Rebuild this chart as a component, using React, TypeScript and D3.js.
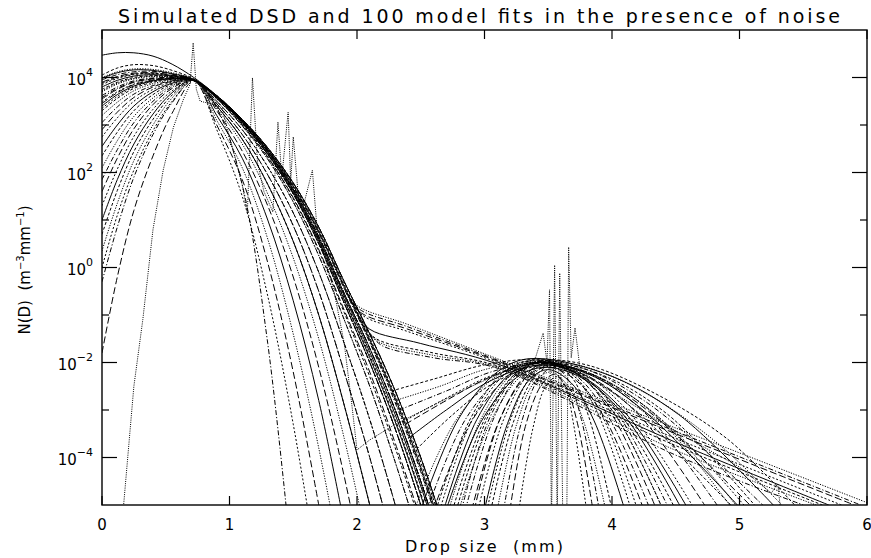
import React from 'react';
import * as d3 from 'd3';

const W = 871;
const H = 558;
const box = { left: 102, right: 867, top: 30, bottom: 505 };

const title = 'Simulated DSD and 100 model fits in the presence of noise';
const xLabel = 'Drop size\u00a0\u00a0(mm)';
const xTicks = [0, 1, 2, 3, 4, 5, 6];
const yMajor = [-4, -2, 0, 2, 4]; // log10 N
const yMinor = [-3, -1, 1, 3];

// first mode fits: log10 N(D) on a shared grid of D (mm)
const mode1D = [0, 0.12, 0.25, 0.4, 0.55, 0.72, 0.9, 1.1, 1.3, 1.5, 1.7, 1.9, 2.1, 2.3, 2.5, 2.7];
const mode1LogN = [
  [4.47, 4.52, 4.52, 4.45, 4.28, 4.0, 3.62, 3.12, 2.52, 1.78, 0.85, -0.3, -1.4, -2.6, -4.0, -5.6],
  [4.05, 4.2, 4.27, 4.25, 4.15, 3.97, 3.61, 3.11, 2.5, 1.75, 0.8, -0.36, -1.48, -2.7, -4.1, -5.7],
  [4.0, 4.12, 4.18, 4.17, 4.1, 3.96, 3.6, 3.08, 2.45, 1.65, 0.65, -0.55, -1.7, -3.0, -4.5, -6.2],
  [3.95, 4.06, 4.12, 4.13, 4.07, 3.95, 3.6, 3.09, 2.47, 1.69, 0.72, -0.45, -1.58, -2.85, -4.3, -5.9],
  [3.9, 4.02, 4.09, 4.1, 4.05, 3.95, 3.58, 3.04, 2.38, 1.55, 0.5, -0.75, -2.0, -3.4, -5.0, -6.8],
  [3.85, 3.98, 4.06, 4.08, 4.04, 3.94, 3.6, 3.08, 2.45, 1.65, 0.65, -0.55, -1.7, -3.0, -4.5, -6.2],
  [3.8, 3.94, 4.03, 4.06, 4.03, 3.95, 3.61, 3.1, 2.49, 1.72, 0.76, -0.4, -1.52, -2.75, -4.2, -5.8],
  [3.75, 3.9, 4.0, 4.04, 4.02, 3.95, 3.59, 3.06, 2.42, 1.6, 0.58, -0.65, -1.85, -3.2, -4.75, -6.5],
  [3.7, 3.86, 3.97, 4.02, 4.01, 3.94, 3.55, 2.98, 2.28, 1.38, 0.25, -1.1, -2.5, -4.1, -5.8],
  [3.62, 3.8, 3.93, 3.99, 4.0, 3.95, 3.6, 3.08, 2.45, 1.65, 0.65, -0.55, -1.7, -3.0, -4.5, -6.2],
  [3.55, 3.75, 3.9, 3.97, 3.99, 3.95, 3.62, 3.12, 2.52, 1.78, 0.85, -0.3, -1.4, -2.6, -4.0, -5.6],
  [3.48, 3.7, 3.86, 3.95, 3.98, 3.94, 3.58, 3.04, 2.38, 1.55, 0.5, -0.75, -2.0, -3.4, -5.0, -6.8],
  [3.4, 3.64, 3.82, 3.93, 3.97, 3.95, 3.59, 3.05, 2.4, 1.58, 0.55, -0.68, -1.9, -3.25, -4.8, -6.6],
  [3.3, 3.56, 3.77, 3.9, 3.96, 3.95, 3.5, 2.9, 2.12, 1.15, -0.1, -1.6, -3.2, -5.0, -7.0],
  [3.2, 3.48, 3.72, 3.87, 3.95, 3.94, 3.6, 3.08, 2.45, 1.65, 0.65, -0.55, -1.7, -3.0, -4.5, -6.2],
  [3.05, 3.38, 3.65, 3.83, 3.93, 3.95, 3.55, 2.98, 2.28, 1.38, 0.25, -1.1, -2.5, -4.1, -5.8],
  [2.9, 3.27, 3.58, 3.8, 3.92, 3.95, 3.45, 2.8, 1.95, 0.88, -0.5, -2.2, -4.0, -6.0],
  [2.75, 3.15, 3.5, 3.75, 3.9, 3.94, 3.58, 3.04, 2.38, 1.55, 0.5, -0.75, -2.0, -3.4, -5.0, -6.8],
  [2.55, 3.0, 3.4, 3.7, 3.88, 3.95, 3.4, 2.7, 1.75, 0.55, -1.0, -2.9, -5.0, -7.2],
  [2.35, 2.85, 3.3, 3.64, 3.86, 3.95, 3.56, 3.0, 2.32, 1.45, 0.35, -0.95, -2.3, -3.8, -5.4],
  [2.1, 2.67, 3.18, 3.57, 3.83, 3.94, 3.35, 2.6, 1.55, 0.2, -1.5, -3.6, -6.0],
  [1.85, 2.48, 3.05, 3.5, 3.8, 3.95, 3.5, 2.9, 2.12, 1.15, -0.1, -1.6, -3.2, -5.0, -7.0],
  [1.6, 2.3, 2.92, 3.43, 3.77, 3.95, 3.3, 2.45, 1.3, -0.2, -2.1, -4.4, -7.0],
  [1.3, 2.07, 2.76, 3.33, 3.72, 3.94, 3.45, 2.8, 1.95, 0.88, -0.5, -2.2, -4.0, -6.0],
  [1.0, 1.85, 2.6, 3.23, 3.68, 3.95, 3.2, 2.3, 1.0, -0.7, -2.8, -5.4],
  [0.7, 1.62, 2.44, 3.12, 3.63, 3.94, 3.4, 2.7, 1.75, 0.55, -1.0, -2.9, -5.0, -7.2],
  [0.35, 1.35, 2.25, 3.0, 3.57, 3.95, 3.1, 2.1, 0.6, -1.4, -3.8, -6.6],
  [-0.3, 0.85, 1.9, 2.8, 3.47, 3.94, 3.36, 1.74, -1.6, -6.5],
  [-1.8, -0.2, 1.2, 2.35, 3.25, 3.92, 3.0, 1.85, 0.1, -2.2, -5.0],
  [0.0, 1.1, 2.05, 2.88, 3.5, 3.94, 2.9, 1.5, -0.6, -3.3, -6.5],
  [3.98, 4.1, 4.16, 4.15, 4.08, 3.96, 3.6, 3.07, 2.43, 1.62, 0.6, -0.6, -1.78, -3.1, -4.6, -6.3],
  [3.88, 4.0, 4.07, 4.09, 4.04, 3.95, 3.61, 3.1, 2.48, 1.7, 0.74, -0.42, -1.55, -2.8, -4.25, -5.9],
  [3.72, 3.88, 3.98, 4.03, 4.01, 3.95, 3.58, 3.04, 2.38, 1.55, 0.5, -0.75, -2.0, -3.4, -5.0, -6.8],
  [3.58, 3.77, 3.91, 3.98, 3.99, 3.94, 3.6, 3.08, 2.45, 1.65, 0.65, -0.55, -1.7, -3.0, -4.5, -6.2],
  [3.45, 3.68, 3.85, 3.94, 3.98, 3.95, 3.57, 3.01, 2.33, 1.47, 0.38, -0.9, -2.2, -3.7, -5.3],
  [3.35, 3.6, 3.8, 3.92, 3.97, 3.95, 3.62, 3.12, 2.52, 1.78, 0.85, -0.3, -1.4, -2.6, -4.0, -5.6],
];

// exponential tails of the large-drop mode, [D, log10 N]
const tailFits = [
  [[1.9, -0.45], [2.0, -0.8], [2.4, -1.2], [3.1, -1.92], [4.5, -3.38], [6.0, -4.95]],
  [[1.92, -0.55], [2.02, -0.88], [2.4, -1.25], [3.1, -1.95], [4.5, -3.45], [5.95, -5.0]],
  [[1.93, -0.6], [2.03, -0.95], [2.4, -1.3], [3.1, -1.97], [4.5, -3.5], [5.9, -5.0]],
  [[1.95, -0.7], [2.05, -1.02], [2.4, -1.35], [3.1, -2.0], [4.5, -3.6], [5.8, -5.0]],
  [[2.0, -0.95], [2.1, -1.3], [2.5, -1.6], [3.1, -2.03], [4.5, -3.68], [5.7, -5.0]],
  [[2.05, -1.2], [2.15, -1.5], [2.6, -1.8], [3.1, -2.07], [4.5, -3.75], [5.65, -5.0]],
  [[2.07, -1.3], [2.18, -1.58], [2.6, -1.85], [3.1, -2.1], [4.5, -3.85], [5.6, -5.0]],
  [[2.1, -1.4], [2.2, -1.65], [2.6, -1.9], [3.1, -2.12], [4.5, -3.95], [5.5, -5.0]],
];

// second mode (gamma) fits, [D, log10 N]
const mode2Fits = [
  [[2.27, -2.6], [2.6, -2.35], [3.0, -2.05], [3.4, -1.93], [3.8, -2.05], [4.3, -2.6], [4.9, -3.6], [5.45, -5.05]],
  [[2.3, -2.8], [2.65, -2.5], [3.0, -2.15], [3.4, -1.97], [3.8, -2.1], [4.3, -2.7], [4.85, -3.75], [5.35, -5.05]],
  [[2.33, -3.0], [2.7, -2.6], [3.05, -2.2], [3.42, -2.0], [3.8, -2.15], [4.25, -2.8], [4.75, -3.9], [5.2, -5.05]],
  [[2.38, -3.3], [2.7, -2.8], [3.05, -2.3], [3.42, -2.02], [3.8, -2.2], [4.2, -2.85], [4.7, -4.0], [5.1, -5.05]],
  [[2.36, -3.25], [2.7, -2.75], [3.05, -2.28], [3.42, -2.02], [3.82, -2.22], [4.25, -2.9], [4.7, -4.0], [5.05, -5.05]],
  [[2.4, -3.6], [2.7, -3.0], [3.05, -2.38], [3.44, -2.05], [3.82, -2.25], [4.22, -2.95], [4.65, -4.05], [5.0, -5.05]],
  [[2.44, -3.9], [2.75, -3.1], [3.08, -2.42], [3.45, -2.07], [3.8, -2.3], [4.18, -3.0], [4.6, -4.1], [4.95, -5.05]],
  [[2.45, -5.1], [2.78, -3.2], [3.12, -2.24], [3.4, -2.0], [3.88, -2.3], [4.36, -3.14], [5.0, -5.1]],
  [[2.55, -5.1], [2.85, -3.2], [3.16, -2.24], [3.42, -1.98], [3.85, -2.28], [4.28, -3.12], [4.85, -5.1]],
  [[2.6, -5.1], [2.9, -3.23], [3.2, -2.28], [3.45, -2.05], [3.84, -2.33], [4.23, -3.16], [4.75, -5.1]],
  [[2.65, -5.1], [2.91, -3.17], [3.18, -2.2], [3.4, -1.95], [3.78, -2.25], [4.15, -3.1], [4.65, -5.1]],
  [[2.7, -5.1], [2.97, -3.26], [3.25, -2.32], [3.48, -2.1], [3.8, -2.38], [4.12, -3.2], [4.55, -5.1]],
  [[2.75, -5.1], [3.0, -3.2], [3.24, -2.24], [3.45, -2.0], [3.77, -2.3], [4.08, -3.14], [4.5, -5.1]],
  [[2.8, -5.1], [3.05, -3.23], [3.29, -2.28], [3.5, -2.05], [3.77, -2.33], [4.04, -3.16], [4.4, -5.1]],
  [[2.85, -5.1], [3.07, -3.19], [3.28, -2.22], [3.47, -1.98], [3.72, -2.28], [3.97, -3.13], [4.3, -5.1]],
  [[2.9, -5.1], [3.11, -3.26], [3.32, -2.32], [3.5, -2.1], [3.72, -2.38], [3.95, -3.2], [4.25, -5.1]],
  [[2.95, -5.1], [3.15, -3.2], [3.35, -2.24], [3.52, -2.0], [3.71, -2.3], [3.9, -3.14], [4.15, -5.1]],
  [[3.0, -5.1], [3.18, -3.29], [3.35, -2.37], [3.5, -2.15], [3.68, -2.43], [3.86, -3.23], [4.1, -5.1]],
  [[3.05, -5.1], [3.23, -3.23], [3.4, -2.28], [3.55, -2.05], [3.69, -2.33], [3.82, -3.16], [4.0, -5.1]],
  [[3.1, -5.1], [3.25, -3.32], [3.39, -2.42], [3.52, -2.2], [3.65, -2.48], [3.78, -3.26], [3.95, -5.1]],
  [[3.15, -5.1], [3.29, -3.26], [3.43, -2.32], [3.55, -2.1], [3.66, -2.38], [3.76, -3.2], [3.9, -5.1]],
  [[3.2, -5.1], [3.32, -3.35], [3.45, -2.46], [3.55, -2.25], [3.64, -2.52], [3.73, -3.29], [3.85, -5.1]],
  [[3.27, -5.1], [3.38, -3.38], [3.48, -2.5], [3.57, -2.3], [3.64, -2.57], [3.7, -3.32], [3.8, -5.1]],
  [[2.5, -5.1], [2.8, -3.17], [3.1, -2.2], [3.35, -1.92], [3.94, -2.23], [4.52, -3.09], [5.3, -5.1]],
  [[2.62, -5.1], [2.89, -3.18], [3.15, -2.2], [3.38, -1.95], [3.91, -2.25], [4.44, -3.1], [5.15, -5.1]],
  [[2.72, -5.1], [2.97, -3.2], [3.22, -2.24], [3.44, -2.0], [3.89, -2.3], [4.35, -3.14], [4.95, -5.1]],
  [[2.82, -5.1], [3.04, -3.17], [3.27, -2.2], [3.46, -1.95], [3.76, -2.25], [4.05, -3.1], [4.45, -5.1]],
  [[2.92, -5.1], [3.12, -3.2], [3.33, -2.24], [3.5, -2.0], [3.76, -2.3], [4.01, -3.14], [4.35, -5.1]],
  [[3.02, -5.1], [3.2, -3.23], [3.37, -2.28], [3.52, -2.05], [3.72, -2.33], [3.93, -3.16], [4.2, -5.1]],
  [[2.68, -5.1], [2.94, -3.2], [3.2, -2.24], [3.42, -2.0], [3.77, -2.3], [4.13, -3.14], [4.6, -5.1]],
  [[2.78, -5.1], [3.02, -3.18], [3.25, -2.22], [3.45, -1.97], [3.74, -2.27], [4.03, -3.12], [4.4, -5.1]],
];

// the simulated (noisy) DSD, [D, log10 N]
const noisyDSD = [
  [0.16, -5.3], [0.25, -2.5], [0.32, -1.1], [0.4, 0.8], [0.48, 2.05], [0.56, 2.95], [0.64, 3.55],
  [0.69, 3.85], [0.715, 4.73], [0.74, 3.75], [0.77, 3.5], [0.85, 3.45], [0.94, 3.36], [1.02, 2.55],
  [1.1, 1.74], [1.14, 1.15], [1.18, 3.99], [1.22, 2.2], [1.27, 1.6], [1.34, 1.17], [1.38, 3.06],
  [1.41, 1.9], [1.46, 3.27], [1.48, 1.8], [1.5, 2.75], [1.54, 1.5], [1.58, 1.3], [1.65, 2.05],
  [1.69, 0.7], [1.75, 0.2], [1.82, -0.5], [1.9, -1.6], [1.96, -2.9], [2.0, -3.84], [2.1, -3.63],
  [2.3, -3.3], [2.6, -2.9], [2.9, -2.5], [3.15, -2.2], [3.3, -2.05], [3.4, -1.9], [3.46, -1.38],
  [3.49, -2.0], [3.51, -0.47], [3.525, -5.5], [3.55, 0.05], [3.57, -5.5], [3.59, -0.12], [3.615, -5.5],
  [3.645, -5.5], [3.66, 0.43], [3.68, -1.9], [3.71, -1.27], [3.75, -2.15], [3.9, -2.45], [4.2, -2.95],
  [4.6, -3.6], [5.0, -4.2], [5.25, -4.75], [5.3, -4.55], [5.33, -5.3],
];

const dashes = ['none', '3,2', '1.2,1.4', '5,2,1.2,2', '7,3', '2,2'];
const font = 'DejaVu Sans, Verdana, sans-serif';

const App = () => {
  const x = d3.scaleLinear().domain([0, 6]).range([box.left, box.right]);
  const y = d3.scaleLog().domain([1e-5, 1e5]).range([box.bottom, box.top]);

  const smooth = d3.line<number[]>()
    .x(d => x(d[0]))
    .y(d => y(Math.pow(10, d[1])))
    .curve(d3.curveCatmullRom.alpha(0.5));
  const raw = d3.line<number[]>()
    .x(d => x(d[0]))
    .y(d => y(Math.pow(10, d[1])));

  const mode1Pts = mode1LogN.map(row => row.map((v, i) => [mode1D[i], v]));

  const supLabel = (e: number) => (e < 0 ? '\u2212' + Math.abs(e) : String(e));

  return (
    <svg width={W} height={H} style={{ position: 'absolute', left: 0, top: 0, background: '#fff' }}
      fontFamily={font}>
      <defs>
        <clipPath id="plotClip">
          <rect x={box.left} y={box.top} width={box.right - box.left} height={box.bottom - box.top} />
        </clipPath>
      </defs>

      <g clipPath="url(#plotClip)" fill="none" stroke="#000" strokeWidth={1}>
        {mode1Pts.map((pts, i) => (
          <path key={'m1' + i} d={smooth(pts) || ''} strokeDasharray={dashes[i % dashes.length]} />
        ))}
        {tailFits.map((pts, i) => (
          <path key={'t' + i} d={smooth(pts) || ''} strokeDasharray={dashes[(i + 2) % dashes.length]} />
        ))}
        {mode2Fits.map((pts, i) => (
          <path key={'m2' + i} d={smooth(pts) || ''} strokeDasharray={dashes[(i + 1) % dashes.length]} />
        ))}
        <path d={raw(noisyDSD) || ''} strokeDasharray="1,1.2" strokeWidth={1} />
      </g>

      {/* frame */}
      <rect x={box.left} y={box.top} width={box.right - box.left} height={box.bottom - box.top}
        fill="none" stroke="#000" strokeWidth={1.4} />

      {/* x ticks */}
      {xTicks.map(t => (
        <g key={'xt' + t}>
          <line x1={x(t)} x2={x(t)} y1={box.bottom} y2={box.bottom - 9} stroke="#000" strokeWidth={1.2} />
          <line x1={x(t)} x2={x(t)} y1={box.top} y2={box.top + 9} stroke="#000" strokeWidth={1.2} />
          <text x={x(t)} y={530} textAnchor="middle" fontSize={15}>{t}</text>
        </g>
      ))}

      {/* y ticks */}
      {yMajor.map(e => (
        <g key={'ym' + e}>
          <line x1={box.left} x2={box.left + 15} y1={y(Math.pow(10, e))} y2={y(Math.pow(10, e))} stroke="#000" strokeWidth={1.2} />
          <line x1={box.right} x2={box.right - 15} y1={y(Math.pow(10, e))} y2={y(Math.pow(10, e))} stroke="#000" strokeWidth={1.2} />
          <text x={93} y={y(Math.pow(10, e)) + 7} textAnchor="end" fontSize={15}>
            10<tspan dy={-9} fontSize={11}>{supLabel(e)}</tspan>
          </text>
        </g>
      ))}
      {yMinor.map(e => (
        <g key={'yn' + e}>
          <line x1={box.left} x2={box.left + 7} y1={y(Math.pow(10, e))} y2={y(Math.pow(10, e))} stroke="#000" strokeWidth={1.2} />
          <line x1={box.right} x2={box.right - 7} y1={y(Math.pow(10, e))} y2={y(Math.pow(10, e))} stroke="#000" strokeWidth={1.2} />
        </g>
      ))}

      {/* titles */}
      <text x={479} y={23} textAnchor="middle" fontSize={19} textLength={722} lengthAdjust="spacing">
        {title}
      </text>
      <text x={484} y={552} textAnchor="middle" fontSize={16} textLength={158} lengthAdjust="spacing">
        {xLabel}
      </text>
      <text transform="translate(30,270) rotate(-90)" textAnchor="middle" fontSize={15}>
        {'N(D)\u00a0\u00a0(m'}
        <tspan dy={-6} fontSize={10}>{'\u22123'}</tspan>
        <tspan dy={6}>mm</tspan>
        <tspan dy={-6} fontSize={10}>{'\u22121'}</tspan>
        <tspan dy={6}>)</tspan>
      </text>
    </svg>
  );
};

export default App;
